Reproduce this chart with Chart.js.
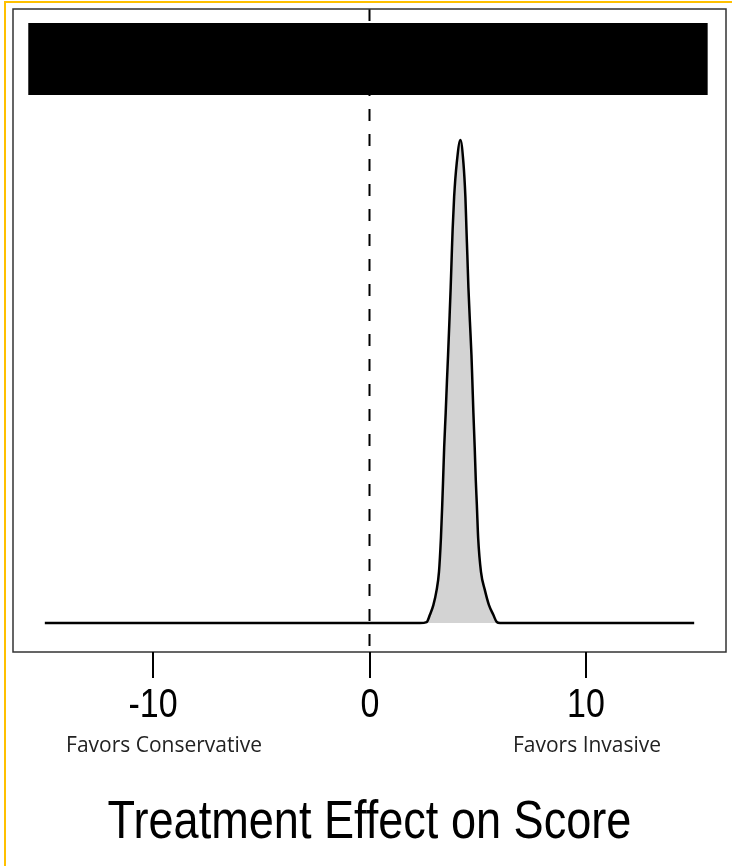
<!DOCTYPE html>
<html>
<head>
<meta charset="utf-8">
<script src="https://cdn.jsdelivr.net/npm/chart.js@4/dist/chart.umd.min.js"></script>
<style>
  html, body { margin: 0; padding: 0; background: #fff; }
  #wrap { width: 732px; height: 866px; position: relative; }
</style>
</head>
<body>
<div id="wrap"><canvas id="myChart"></canvas></div>
<script>
// density of the treatment effect (relative height, peak = 1)
var effectX = [-15, 2.33, 2.64, 2.79, 2.95, 3.10, 3.21, 3.30, 3.36, 3.40, 3.45, 3.52, 3.58, 3.63, 3.69, 3.75, 3.80, 3.84, 3.91, 4.03, 4.20,
	4.34, 4.43, 4.48, 4.52, 4.57, 4.64, 4.71, 4.75, 4.80, 4.86, 4.91, 4.96, 5.02, 5.15, 5.33, 5.52, 5.72, 5.88, 6.03, 15];
var density = [0, 0, 0.002, 0.017, 0.037, 0.068, 0.106, 0.176, 0.244, 0.296, 0.364, 0.435, 0.503, 0.555, 0.623, 0.694, 0.762, 0.814, 0.882, 0.952, 1.0,
	0.952, 0.882, 0.814, 0.762, 0.694, 0.623, 0.555, 0.503, 0.435, 0.364, 0.296, 0.244, 0.176, 0.106, 0.068, 0.037, 0.017, 0.002, 0, 0];

var tickValues = [-10, 0, 10];
var sideLabels = ["Favors Conservative", "Favors Invasive"];
var sideLabelX = [-9.49, 10.05];
var axisTitle = "Treatment Effect on Score";

// redacted header box
var boxX = [-15.77, 15.63];
var boxY = [1.093, 1.242];

var xRange = [-16.47, 16.47];
var yRange = [-0.060, 1.271];

var _curve = [];
effectX.forEach(function(x, i) {
	_curve.push({x: x, y: density[i]});
});

// narrow text: Arial Narrow is not around, so squeeze Liberation Sans
function narrowText(ctx, text, x, y, sx) {
	ctx.save();
	ctx.translate(x, y);
	ctx.scale(sx, 1);
	ctx.fillText(text, 0, 0);
	ctx.restore();
}

var framePlugin = {
	id: 'framePlugin',
	beforeDraw: function(chart) {
		var ctx = chart.ctx;
		ctx.save();
		ctx.fillStyle = '#fff';
		ctx.fillRect(0, 0, chart.width, chart.height);
		// yellow page edge
		ctx.strokeStyle = '#FFC000';
		ctx.lineWidth = 2;
		ctx.beginPath();
		ctx.moveTo(5, chart.height);
		ctx.lineTo(5, 2);
		ctx.lineTo(chart.width, 2);
		ctx.stroke();
		ctx.restore();
	},
	afterDraw: function(chart) {
		var ctx = chart.ctx;
		var a = chart.chartArea;
		var xs = chart.scales.x;
		ctx.save();
		ctx.strokeStyle = '#333';
		ctx.lineWidth = 1.5;
		ctx.strokeRect(a.left, a.top, a.right - a.left, a.bottom - a.top);

		ctx.strokeStyle = '#000';
		ctx.lineWidth = 2;
		ctx.fillStyle = '#000';
		ctx.textAlign = 'center';
		ctx.textBaseline = 'alphabetic';
		ctx.font = '40px "Liberation Sans", Arial, sans-serif';
		tickValues.forEach(function(v) {
			var px = Math.round(xs.getPixelForValue(v));
			ctx.beginPath();
			ctx.moveTo(px, a.bottom);
			ctx.lineTo(px, a.bottom + 26);
			ctx.stroke();
			narrowText(ctx, String(v), px, a.bottom + 65, 0.85);
		});

		ctx.font = '21px "Open Sans", "Noto Sans", sans-serif';
		ctx.fillStyle = '#222';
		sideLabels.forEach(function(t, i) {
			ctx.fillText(t, xs.getPixelForValue(sideLabelX[i]), a.bottom + 100);
		});

		ctx.fillStyle = '#000';
		ctx.font = '54px "Liberation Sans", Arial, sans-serif';
		narrowText(ctx, axisTitle, (a.left + a.right) / 2, a.bottom + 186, 0.835);
		ctx.restore();
	}
};

var _config = {
	type: 'scatter',
	data: {
		datasets: [
			{
				data: [{x: boxX[0], y: boxY[1]}, {x: boxX[1], y: boxY[1]}],
				showLine: true,
				borderWidth: 0,
				borderColor: '#000',
				backgroundColor: '#000',
				pointRadius: 0,
				fill: {value: boxY[0]}
			},
			{
				data: _curve,
				showLine: true,
				borderColor: '#000',
				borderWidth: 2.5,
				backgroundColor: '#d3d3d3',
				pointRadius: 0,
				cubicInterpolationMode: 'monotone',
				fill: 'origin'
			},
			{
				data: [{x: 0, y: yRange[1]}, {x: 0, y: yRange[0]}],
				showLine: true,
				borderColor: '#000',
				borderWidth: 2,
				borderDash: [12, 13],
				pointRadius: 0,
				fill: false
			}
		]
	},
	options: {
		responsive: false,
		animation: false,
		layout: {
			padding: {left: 13, right: 6, top: 9, bottom: 214}
		},
		plugins: {
			legend: {display: false},
			tooltip: {enabled: false}
		},
		scales: {
			x: {type: 'linear', display: false, min: xRange[0], max: xRange[1]},
			y: {type: 'linear', display: false, min: yRange[0], max: yRange[1]}
		}
	},
	plugins: [framePlugin]
};

var cvs = document.getElementById('myChart');
cvs.width = 732;
cvs.height = 866;
var myChart = new Chart(cvs, _config);
</script>
</body>
</html>
